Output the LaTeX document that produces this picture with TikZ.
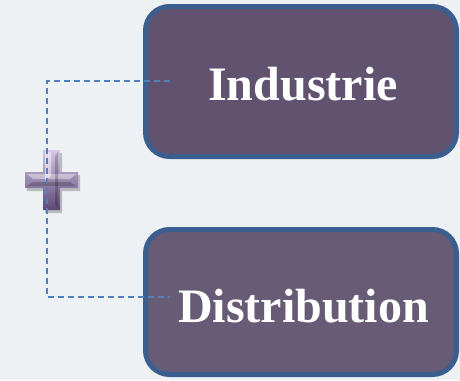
\documentclass[tikz,border=0pt]{standalone}
\usepackage{fontspec}
\setmainfont{Liberation Serif}
\definecolor{bg}{HTML}{EEF1F4}
\definecolor{boxline}{HTML}{3A5F8E}
\definecolor{boxa}{HTML}{615370}
\definecolor{boxb}{HTML}{675B75}
\definecolor{dash}{HTML}{4F81BD}
\definecolor{crosstop}{HTML}{D6C8E6}
\definecolor{crossbot}{HTML}{5A4876}
\tikzset{
  box/.style={draw=boxline, line width=5pt, rounded corners=24pt, inner sep=0pt},
  lbl/.style={text=white, font=\fontsize{48}{50}\selectfont\bfseries, inner sep=0pt, anchor=base},
  link/.style={draw=dash, line width=1.4pt, dash pattern=on 6pt off 4pt},
}
\begin{document}
\begin{tikzpicture}[x=1pt,y=-1pt]
\useasboundingbox (0,0) rectangle (460,380);
\fill[bg] (0,0) rectangle (460,380);
% boxes
\node[box, fill=boxa, minimum width=311pt, minimum height=150pt] (b1) at (301,81.5) {};
\node[box, fill=boxb, minimum width=311pt, minimum height=145pt] (b2) at (301,302) {};
\node[lbl] (t1) at (303,100) {Industrie};
\node[lbl] (t2) at (303.5,322) {Distribution};
% cross
\node[inner sep=0pt, minimum size=53pt] (plus) at (51.5,180) {};
\fill[black, opacity=0.22, shift={(2,3)}]
  (43,150) -- (60,150) -- (60,172) -- (78,172) -- (78,188) -- (60,188) -- (60,210)
  -- (43,210) -- (43,188) -- (25,188) -- (25,172) -- (43,172) -- cycle;
\shade[top color=crosstop, bottom color=crossbot]
  (43,150) -- (60,150) -- (60,172) -- (78,172) -- (78,188) -- (60,188) -- (60,210)
  -- (43,210) -- (43,188) -- (25,188) -- (25,172) -- (43,172) -- cycle;
\fill[white, opacity=0.5] (45,152) -- (51,152) -- (51,176) -- (45,180) -- cycle;
\fill[white, opacity=0.4] (27,174) -- (76,174) -- (70,179) -- (33,179) -- cycle;
\fill[black, opacity=0.2] (27,186) -- (76,186) -- (70,182) -- (33,182) -- cycle;
\fill[black, opacity=0.2] (58,152) -- (58,208) -- (55,204) -- (55,156) -- cycle;
% connectors
\coordinate (c1) at (47,81);
\coordinate (c2) at (47,297);
\coordinate (e1) at (170,81);
\coordinate (e2) at (170,297);
\draw[link] (e1) -- (c1) -- (c2) -- (e2);
\end{tikzpicture}
\end{document}
